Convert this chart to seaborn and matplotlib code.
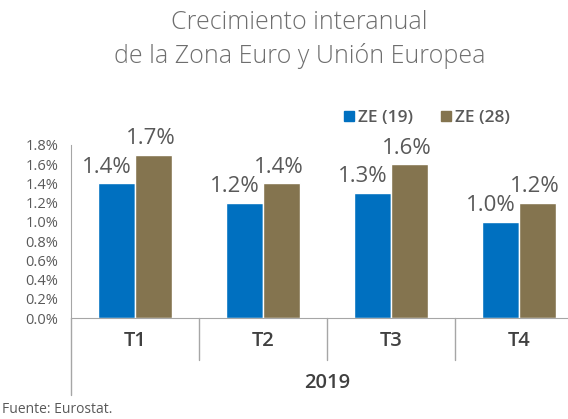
import matplotlib
matplotlib.use("Agg")
import matplotlib.pyplot as plt
import matplotlib.transforms as mtransforms
from matplotlib.ticker import FuncFormatter
import seaborn as sns
import pandas as pd

# Data
quarters = ["T1", "T2", "T3", "T4"]
series_names = ["ZE (19)", "ZE (28)"]
ze19 = [1.4, 1.2, 1.3, 1.0]
ze28 = [1.7, 1.4, 1.6, 1.2]
year_label = "2019"
colors = ["#0070C0", "#84744F"]
grey = "#595959"

df = pd.DataFrame({
    "Trimestre": quarters * 2,
    "Serie": [series_names[0]] * 4 + [series_names[1]] * 4,
    "Valor": ze19 + ze28,
})

sns.set_style("white")
plt.rcParams["font.family"] = ["Open Sans", "DejaVu Sans"]

fig = plt.figure(figsize=(5.68, 4.19), dpi=100)
ax = fig.add_axes([0.125, 0.241, 0.901, 0.413])

sns.barplot(data=df, x="Trimestre", y="Valor", hue="Serie", order=quarters,
            hue_order=series_names, palette=colors, width=0.58, saturation=1,
            ax=ax, legend=False)

ax.set_ylim(0, 1.8)
ax.set_xlim(-0.5, 3.5)
ax.set_yticks([i / 10 for i in range(0, 19, 2)])
ax.yaxis.set_major_formatter(FuncFormatter(lambda v, p: f"{v:.1f}%"))
ax.tick_params(axis="y", labelsize=10.5, colors=grey, length=4, width=0.8, pad=5)
ax.tick_params(axis="y", color="#A6A6A6")
ax.set_xticks([])
ax.set_xlabel("")
ax.set_ylabel("")
for s in ["top", "right"]:
    ax.spines[s].set_visible(False)
ax.spines["left"].set_color("#A6A6A6")
ax.spines["bottom"].set_color("#A6A6A6")

# value labels (blue ones sit a bit to the left, as in the original)
shifts = [-7, -2]
for k, cont in enumerate(ax.containers):
    for t in ax.bar_label(cont, labels=[f"{v:.1f}%" for v in cont.datavalues],
                          fontsize=16, color=grey, padding=4):
        t.xyann = (shifts[k], t.xyann[1])

# multi-level category axis
trans = mtransforms.blended_transform_factory(ax.transData, ax.transAxes)
for i in range(len(quarters) + 1):
    x = i - 0.5
    y0 = -0.445 if i == 0 else -0.243
    ax.plot([x, x], [0, y0], transform=trans, color="#A6A6A6", lw=1, clip_on=False)
for i, q in enumerate(quarters):
    ax.text(i, -0.13, q, transform=trans, ha="center", va="center",
            fontsize=14.5, color="#404040", fontweight="semibold")
ax.text(0.5, -0.375, year_label, transform=ax.transAxes, ha="center", va="center",
        fontsize=14.5, color="#404040", fontweight="semibold")

# legend
handles = [plt.Rectangle((0, 0), 1, 1, color=c) for c in colors]
fig.legend(handles, series_names, loc="center", bbox_to_anchor=(0.752, 0.718),
           ncol=2, frameon=False, handlelength=0.55, handleheight=0.55,
           handletextpad=0.25, columnspacing=1.6,
           prop={"family": ["Open Sans", "DejaVu Sans"], "weight": "semibold", "size": 12.5})
for t in fig.legends[0].get_texts():
    t.set_color(grey)

fig.text(0.527, 0.905, "Crecimiento interanual\nde la Zona Euro y Unión Europea",
         ha="center", va="center", fontsize=18, color="#6E6E6E",
         fontweight="light", linespacing=1.4)
fig.text(0.004, 0.022, "Fuente: Eurostat.", ha="left", va="center",
         fontsize=10, color=grey)

fig.savefig("out.png", dpi=100)
